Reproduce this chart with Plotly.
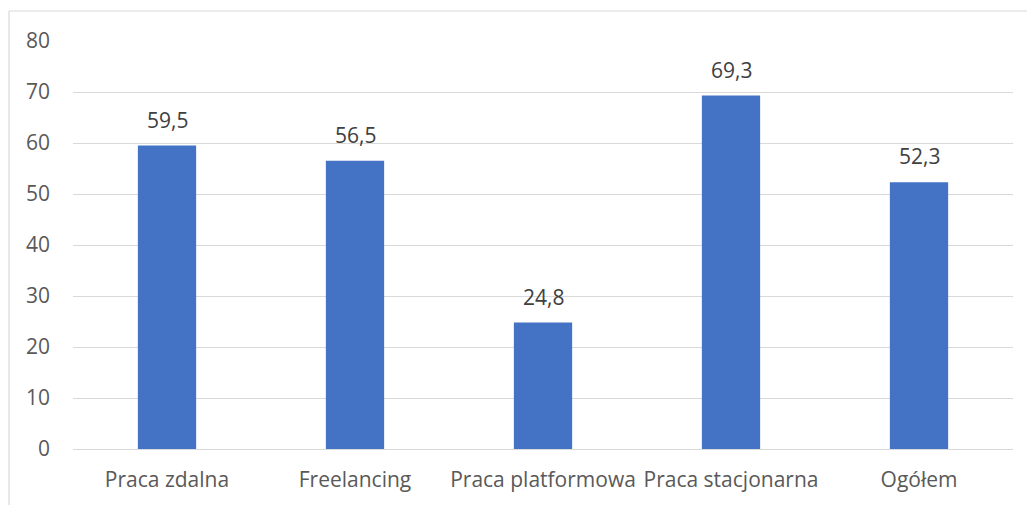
import plotly.graph_objects as go

# Share of respondents by type of work (%)
categories = ["Praca zdalna", "Freelancing", "Praca platformowa", "Praca stacjonarna", "Ogółem"]
values = [59.5, 56.5, 24.8, 69.3, 52.3]
y_ticks = [0, 10, 20, 30, 40, 50, 60, 70, 80]

BAR_COLOR = "#4472C4"
GRID_COLOR = "#D9D9D9"
AXIS_TEXT = "#595959"
LABEL_TEXT = "#404040"
FONT = "Open Sans"
FSIZE = 21

W, H = 1027, 505
M_L, M_R, M_T, M_B = 73, 14, 41, 56

fig = go.Figure(
    go.Bar(
        x=categories,
        y=values,
        marker=dict(color=BAR_COLOR, line=dict(width=0)),
        hoverinfo="skip",
    )
)

# value labels above each bar, using a decimal comma
for cat, val in zip(categories, values):
    fig.add_annotation(
        x=cat,
        y=val,
        text=f"{val:.1f}".replace(".", ","),
        showarrow=False,
        yanchor="bottom",
        yshift=10,
        font=dict(family=FONT, size=FSIZE, color=LABEL_TEXT),
    )

# outer chart frame (left and top edges visible)
plot_w = W - M_L - M_R
plot_h = H - M_T - M_B
fx0 = (9 - M_L) / plot_w
fy1 = 1 + (M_T - 11) / plot_h
fig.add_shape(
    type="line", xref="paper", yref="paper",
    x0=fx0, x1=fx0, y0=-0.5, y1=fy1,
    line=dict(color=GRID_COLOR, width=1.2),
)
fig.add_shape(
    type="line", xref="paper", yref="paper",
    x0=fx0, x1=1.5, y0=fy1, y1=fy1,
    line=dict(color=GRID_COLOR, width=1.2),
)

fig.update_layout(
    width=W,
    height=H,
    margin=dict(l=M_L, r=M_R, t=M_T, b=M_B, pad=0),
    paper_bgcolor="white",
    plot_bgcolor="white",
    bargap=0.69,
    showlegend=False,
    separators=", ",
    font=dict(family=FONT, size=FSIZE, color=AXIS_TEXT),
    xaxis=dict(
        showgrid=False,
        showline=False,
        ticks="",
        ticklabelstandoff=16,
        tickfont=dict(family=FONT, size=FSIZE, color=AXIS_TEXT),
    ),
    yaxis=dict(
        range=[0, 80],
        tickvals=y_ticks,
        showgrid=True,
        gridcolor=GRID_COLOR,
        gridwidth=1.2,
        zeroline=True,
        zerolinecolor=GRID_COLOR,
        zerolinewidth=1.2,
        showline=False,
        ticks="",
        ticklabelstandoff=22,
        tickfont=dict(family=FONT, size=FSIZE, color=AXIS_TEXT),
    ),
)

fig.write_html("out.html", config={"displayModeBar": False})
